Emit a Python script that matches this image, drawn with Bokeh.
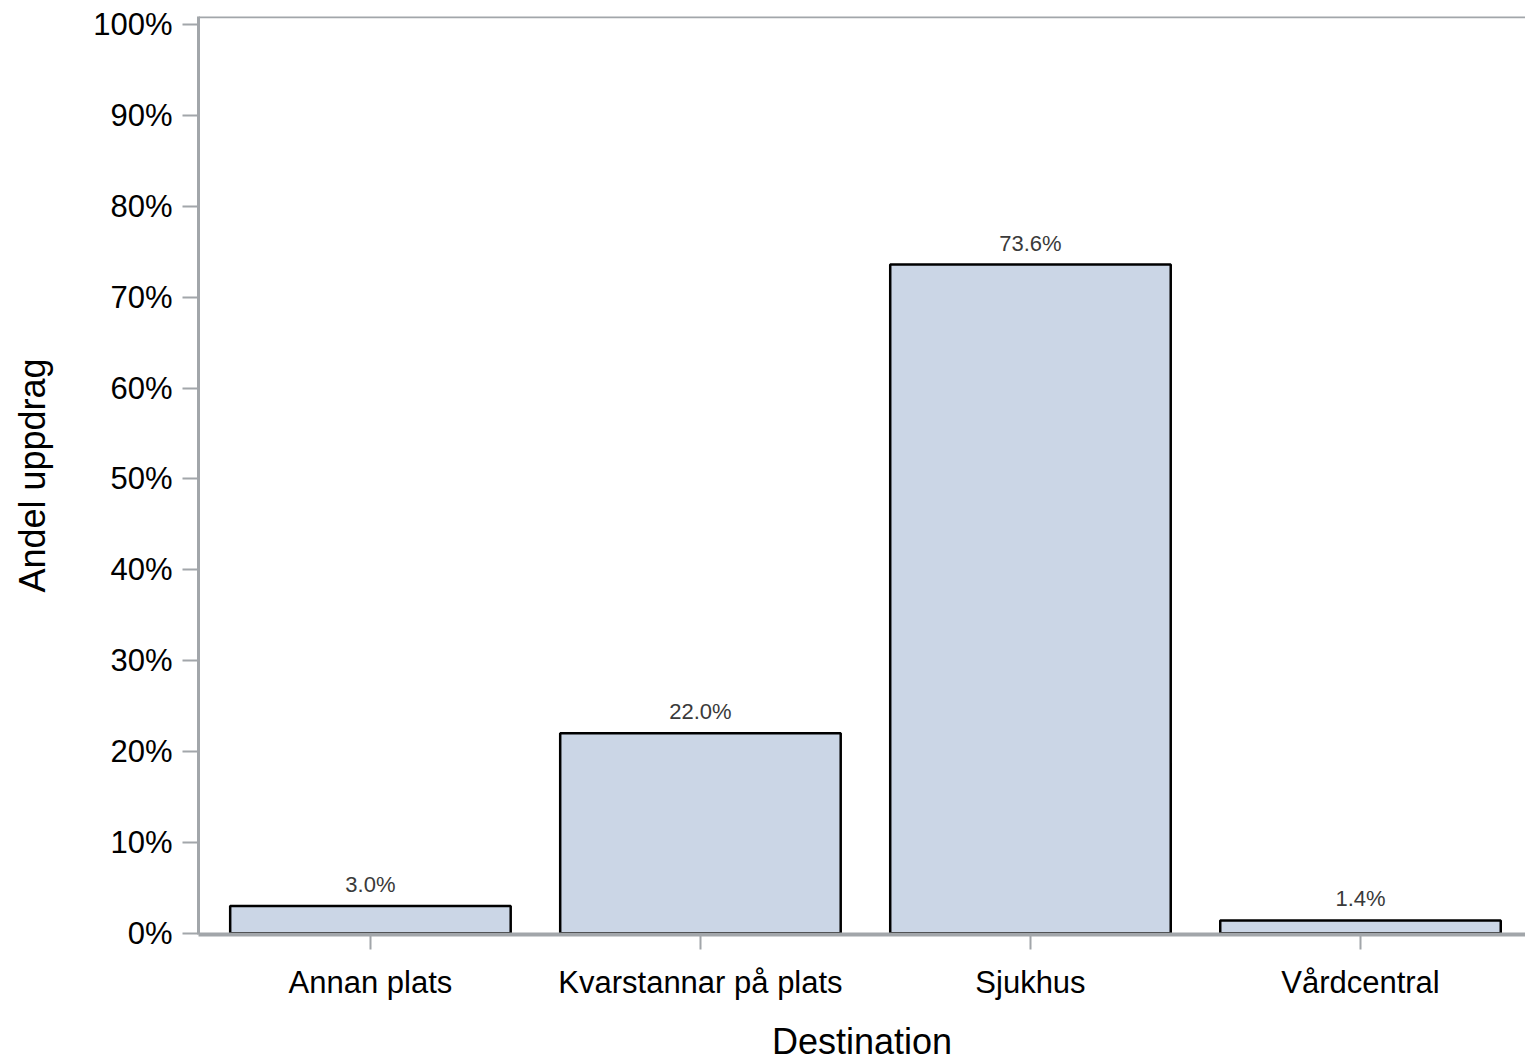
from bokeh.plotting import figure
from bokeh.models import ColumnDataSource, Range1d, FixedTicker, Span, LabelSet
from bokeh.core.properties import value
from bokeh.embed import file_html
from bokeh.resources import INLINE

categories = ["Annan plats", "Kvarstannar på plats", "Sjukhus", "Vårdcentral"]
values = [3.0, 22.0, 73.6, 1.4]
value_labels = ["3.0%", "22.0%", "73.6%", "1.4%"]
y_ticks = [0, 10, 20, 30, 40, 50, 60, 70, 80, 90, 100]

xs = [i + 0.5 for i in range(len(categories))]
src = ColumnDataSource(dict(x=xs, top=values, lab=value_labels, cat=categories))

FONT = "Liberation Sans"
GRAY = "#a2a6aa"

p = figure(width=1525, height=1064, output_backend="svg", toolbar_location=None,
           x_range=Range1d(-0.021, 4.0), y_range=Range1d(-0.15, 100.9),
           min_border_left=198, min_border_top=16, min_border_right=0, min_border_bottom=0)
p.outline_line_color = None
p.grid.grid_line_color = None
p.background_fill_color = "white"
p.border_fill_color = "white"

p.vbar(x="x", top="top", bottom=0, width=0.85, source=src,
       fill_color="#cbd6e6", line_color="black", line_width=2.5)

p.add_layout(LabelSet(x="x", y="top", text="lab", source=src, text_align="center",
                      text_baseline="bottom", y_offset=9, text_font=value(FONT),
                      text_font_size="22px", text_color="#3a3a3a"))

p.add_layout(Span(location=100.88, dimension="width", line_color=GRAY, line_width=3))

# x axis
p.xaxis.ticker = FixedTicker(ticks=xs)
p.xaxis.major_label_overrides = {x: c for x, c in zip(xs, categories)}
p.xaxis.axis_label = "Destination"
p.xaxis.axis_line_color = GRAY
p.xaxis.axis_line_width = 4
p.xaxis.major_tick_line_color = GRAY
p.xaxis.major_tick_line_width = 2
p.xaxis.major_tick_out = 15
p.xaxis.major_tick_in = 0
p.xaxis.minor_tick_line_color = None
p.xaxis.major_label_standoff = 15
p.xaxis.axis_label_standoff = 18

# y axis
p.yaxis.ticker = FixedTicker(ticks=y_ticks)
p.yaxis.major_label_overrides = {t: f"{t}%" for t in y_ticks}
p.yaxis.axis_label = "Andel uppdrag"
p.yaxis.axis_line_color = GRAY
p.yaxis.axis_line_width = 3
p.yaxis.major_tick_line_color = GRAY
p.yaxis.major_tick_line_width = 2
p.yaxis.major_tick_out = 16
p.yaxis.major_tick_in = 0
p.yaxis.minor_tick_line_color = None
p.yaxis.major_label_standoff = 10
p.yaxis.axis_label_standoff = 37

for ax in (p.xaxis, p.yaxis):
    ax.major_label_text_font = FONT
    ax.major_label_text_font_size = "31px"
    ax.major_label_text_color = "black"
    ax.axis_label_text_font = FONT
    ax.axis_label_text_font_size = "36px"
    ax.axis_label_text_font_style = "normal"
    ax.axis_label_text_color = "black"

open("out.html", "w").write(file_html(p, INLINE))
